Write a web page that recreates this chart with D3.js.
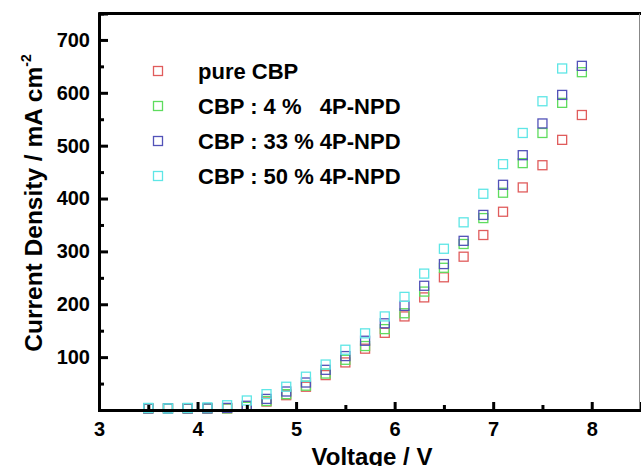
<!DOCTYPE html>
<html>
<head>
<meta charset="utf-8">
<script src="https://cdn.jsdelivr.net/npm/d3@7"></script>
<style>
  body { margin: 0; background: #fff; }
  text { font-family: "Liberation Sans", Arial, sans-serif; font-weight: bold; }
</style>
</head>
<body>
<div id="wrapper"></div>
<script>
/// Data ///
const voltage = [3.5, 3.7, 3.9, 4.1, 4.3, 4.5, 4.7, 4.9, 5.1, 5.3, 5.5, 5.7,
  5.9, 6.1, 6.3, 6.5, 6.7, 6.9, 7.1, 7.3, 7.5, 7.7, 7.9];

const pureCBP = [3, 3, 3, 3, 3, 6, 16, 28, 44, 66, 90, 116,
  146, 177, 213, 251, 290, 331, 375, 421, 463, 511, 558];
const cbp4 = [3, 3, 3, 3, 3, 6, 17, 30, 46, 69, 95, 121,
  153, 183, 224, 269, 314, 363, 411, 467, 524, 581, 639];
const cbp33 = [3, 3, 3, 3, 4, 8, 21, 35, 52, 76, 102, 131,
  164, 197, 235, 276, 320, 369, 426, 482, 542, 596, 651];
const cbp50 = [4, 3, 4, 5, 9, 18, 30, 44, 63, 86, 114, 145,
  177, 214, 258, 305, 355, 409, 465, 524, 584, 646];

const seriesNames = ["pure CBP", "CBP : 4 %   4P-NPD", "CBP : 33 % 4P-NPD", "CBP : 50 % 4P-NPD"];
const seriesValues = [pureCBP, cbp4, cbp33, cbp50];
const seriesColours = ["#e05c5c", "#5edc5e", "#5252b8", "#5ee6e6"];

const xTicks = [3, 4, 5, 6, 7, 8];
const yTicks = [100, 200, 300, 400, 500, 600, 700];

/// Dimensions ///
const width = 641;
const height = 466;
const margin = { top: 13.5, right: 0, bottom: 56, left: 99 };
const boxSize = 9;

const svg = d3.select("#wrapper").append("svg")
  .attr("width", width)
  .attr("height", height)

/// Scales ///
const x = d3.scaleLinear()
  .domain([3, 8.5])
  .range([margin.left, width - margin.right])
const y = d3.scaleLinear()
  .domain([0, 750])
  .range([height - margin.bottom, margin.top])

/// Frame (top and right edge) ///
svg.append("line")
  .attr("x1", x(3)).attr("x2", width)
  .attr("y1", y(750)).attr("y2", y(750))
  .attr("stroke", "#000").attr("stroke-width", 3)
svg.append("line")
  .attr("x1", width - 1.5).attr("x2", width - 1.5)
  .attr("y1", y(750)).attr("y2", y(0))
  .attr("stroke", "#888").attr("stroke-width", 1)

/// Marks ///
seriesValues.forEach((vals, i) => {
  const marks = vals.map((v, j) => ({ x: x(voltage[j]), y: y(v) }));
  svg.append("g")
    .selectAll("rect")
    .data(marks)
    .join("rect")
      .attr("x", d => d.x - boxSize / 2)
      .attr("y", d => d.y - boxSize / 2)
      .attr("width", boxSize)
      .attr("height", boxSize)
      .attr("fill", "none")
      .attr("stroke", seriesColours[i])
      .attr("stroke-width", 1.3)
});

/// Axes ///
const styleAxis = g => {
  g.select(".domain").attr("stroke-width", 3)
  g.selectAll(".tick line").attr("stroke-width", 3)
  g.selectAll(".tick text").attr("font-size", 20).attr("fill", "#000")
};

// minor ticks
svg.append('g')
  .attr("transform", `translate(0, ${y(0)})`)
  .call(d3.axisBottom(x).tickValues(d3.range(3.5, 8.5, 1)).tickSize(-5).tickFormat(""))
  .call(styleAxis)
svg.append('g')
  .attr("transform", `translate(${x(3)}, 0)`)
  .call(d3.axisLeft(y).tickValues(d3.range(50, 750, 100)).tickSize(-5).tickFormat(""))
  .call(styleAxis)

// major ticks
svg.append('g')
  .attr("transform", `translate(0, ${y(0)})`)
  .call(d3.axisBottom(x).tickValues(xTicks).tickSize(-8).tickPadding(12).tickFormat(d3.format("d")))
  .call(styleAxis)
svg.append('g')
  .attr("transform", `translate(${x(3)}, 0)`)
  .call(d3.axisLeft(y).tickValues(yTicks).tickSize(-9).tickPadding(9).tickFormat(d3.format("d")))
  .call(styleAxis)

/// Axis titles ///
svg.append("text")
  .attr("x", 372)
  .attr("y", 465)
  .attr("text-anchor", "middle")
  .attr("font-size", 24)
  .text("Voltage / V")

const yTitle = svg.append("text")
  .attr("transform", `translate(42, 203) rotate(-90)`)
  .attr("text-anchor", "middle")
  .attr("font-size", 24.5)
yTitle.append("tspan").text("Current Density / mA cm")
yTitle.append("tspan").attr("font-size", 14).attr("dy", -11).text("-2")

/// Legend ///
const legend = svg.append("g")
  .selectAll("g")
  .data(seriesNames)
  .join("g")
    .attr("transform", (d, i) => `translate(158, ${71 + i * 35})`)
legend.append("rect")
  .attr("x", -boxSize / 2).attr("y", -boxSize / 2)
  .attr("width", boxSize).attr("height", boxSize)
  .attr("fill", "none")
  .attr("stroke", (d, i) => seriesColours[i])
  .attr("stroke-width", 1.3)
legend.append("text")
  .attr("x", 40)
  .attr("y", 8)
  .attr("font-size", 22)
  .style("white-space", "pre")
  .text(d => d)
</script>
</body>
</html>
